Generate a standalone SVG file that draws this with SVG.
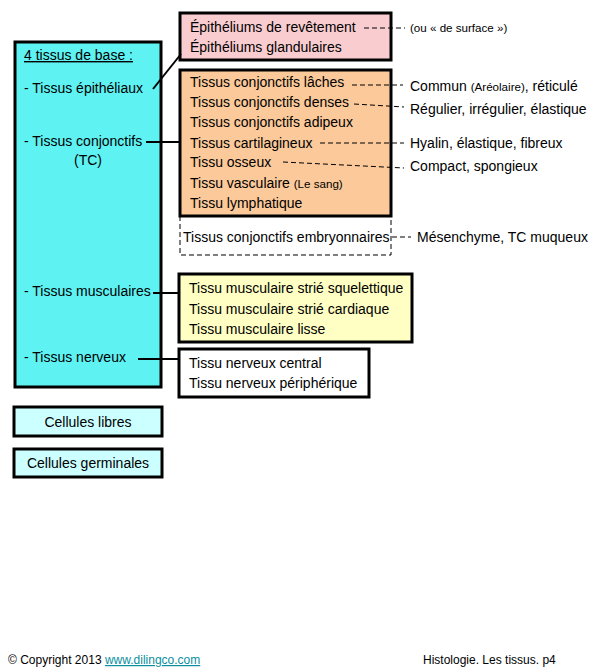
<svg xmlns="http://www.w3.org/2000/svg" width="595" height="671" viewBox="0 0 595 671">
<style>
text{font-family:"Liberation Sans",Arial,sans-serif;font-size:14px;fill:#000}
.sm{font-size:11.6px}
.box{stroke:#000;stroke-width:3}
.ln{stroke:#000;stroke-width:2;fill:none}
.dl{stroke:#000;stroke-width:1;stroke-dasharray:5,3;fill:none}
.ft{font-size:12px}
</style>
<rect width="595" height="671" fill="#fff"/>
<g id="base">
<rect class="box" x="15" y="42" width="146" height="345" fill="#5FF2F2"/>
<text x="24" y="60" text-decoration="underline">4 tissus de base :</text>
<text x="24" y="93">- Tissus épithéliaux</text>
<text x="24" y="146">- Tissus conjonctifs</text>
<text x="88" y="165" text-anchor="middle">(TC)</text>
<text x="24" y="296">- Tissus musculaires</text>
<text x="24" y="362">- Tissus nerveux</text>
</g>
<g id="epith">
<rect class="box" x="180" y="13" width="211" height="47" fill="#F9CDD0"/>
<text x="190" y="32">Épithéliums de revêtement</text>
<text x="190" y="52">Épithéliums glandulaires</text>
</g>
<g id="conj">
<rect class="box" x="180" y="70" width="211" height="146" fill="#FBC99A"/>
<text x="190" y="87">Tissus conjonctifs lâches</text>
<text x="190" y="107">Tissus conjonctifs denses</text>
<text x="190" y="127">Tissus conjonctifs adipeux</text>
<text x="190" y="148">Tissus cartilagineux</text>
<text x="190" y="167">Tissu osseux</text>
<text x="190" y="188">Tissu vasculaire <tspan class="sm">(Le sang)</tspan></text>
<text x="190" y="208">Tissu lymphatique</text>
</g>
<g id="embryo">
<path class="dl" d="M180,216 V255 H391 V216"/>
<text x="183" y="242">Tissus conjonctifs embryonnaires</text>
</g>
<g id="musc">
<rect class="box" x="179" y="274" width="233" height="68" fill="#FFFFC4"/>
<text x="189" y="293">Tissu musculaire strié squelettique</text>
<text x="189" y="314">Tissu musculaire strié cardiaque</text>
<text x="189" y="334">Tissu musculaire lisse</text>
</g>
<g id="nerv">
<rect class="box" x="179" y="349" width="190" height="48" fill="#fff"/>
<text x="189" y="368">Tissu nerveux central</text>
<text x="189" y="388">Tissu nerveux périphérique</text>
</g>
<g id="libres">
<rect class="box" x="14" y="407" width="148" height="29" fill="#CCFFFF"/>
<text x="88" y="427" text-anchor="middle">Cellules libres</text>
</g>
<g id="germ">
<rect class="box" x="14" y="449" width="148" height="28" fill="#CCFFFF"/>
<text x="88" y="468" text-anchor="middle">Cellules germinales</text>
</g>
<g id="notes">
<text x="410" y="32" class="sm">(ou « de surface »)</text>
<text x="410" y="91">Commun <tspan class="sm">(Aréolaire)</tspan>, réticulé</text>
<text x="410" y="114">Régulier, irrégulier, élastique</text>
<text x="410" y="148">Hyalin, élastique, fibreux</text>
<text x="410" y="171">Compact, spongieux</text>
<text x="417" y="242">Mésenchyme, TC muqueux</text>
</g>
<g id="connectors">
<path class="ln" d="M153,89 L181,54"/>
<path class="ln" d="M146,142 H180"/>
<path class="ln" d="M153,293 H180"/>
<path class="ln" d="M138,359 H179"/>
<path class="dl" d="M364,28 H405"/>
<path class="dl" d="M352,85 H403"/>
<path class="dl" d="M354,104 L404,107"/>
<path class="dl" d="M320,143 H404"/>
<path class="dl" d="M283,162 L404,168"/>
<path class="dl" d="M392,237 H411"/>
</g>
<g id="footer">
<text x="8" y="664" class="ft">© Copyright 2013 <tspan fill="#0A8FA0" text-decoration="underline">www.dilingco.com</tspan></text>
<text x="423" y="664" class="ft">Histologie. Les tissus. p4</text>
</g>
</svg>
